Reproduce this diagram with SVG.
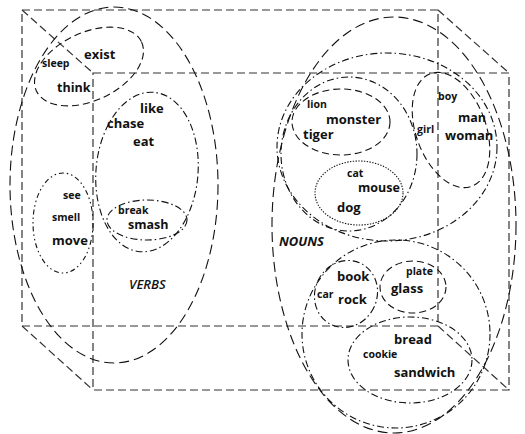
<svg xmlns="http://www.w3.org/2000/svg" width="525" height="434" viewBox="0 0 525 434">
<style>
.box{fill:none;stroke:#333;stroke-width:1.2;stroke-dasharray:8 4}
.e{fill:none;stroke:#111;stroke-width:1.1}
.long{stroke-dasharray:10 5}
.dash{stroke-dasharray:7 4}
.dd{stroke-dasharray:7 3 1.5 3}
.ddd{stroke-dasharray:5 3 1.5 3 1.5 3}
.dot{stroke-dasharray:1.4 1.4}
text{font-family:"Open Sans","Liberation Sans",sans-serif;font-weight:bold;fill:#111}
.s{font-size:10.5px}
.m{font-size:12.5px}
.l{font-size:13px}
.cat{font-size:13px;font-style:italic}
</style>
<rect width="525" height="434" fill="#fff"/>
<g id="box">
<rect class="box" x="22" y="10" width="416" height="316"/>
<rect class="box" x="93" y="73" width="416" height="317"/>
<line class="box" x1="22" y1="10" x2="93" y2="73"/>
<line class="box" x1="438" y1="10" x2="509" y2="73"/>
<line class="box" x1="22" y1="326" x2="93" y2="390"/>
<line class="box" x1="438" y1="326" x2="509" y2="390"/>
</g>
<g id="verbs">
<ellipse class="e long" cx="114" cy="185" rx="104" ry="178"/>
<text class="cat" x="129" y="289" style="font-weight:600">VERBS</text>
</g>
<g id="exist-group">
<ellipse class="e dash" cx="89" cy="66.5" rx="58" ry="34" transform="rotate(-25 89 66.5)"/>
<text class="l" x="84" y="59">exist</text>
<text class="s" x="42" y="67">sleep</text>
<text class="m" x="57" y="92">think</text>
</g>
<g id="like-group">
<ellipse class="e dd" cx="147" cy="172" rx="51" ry="80" transform="rotate(5 147 172)"/>
<text class="l" x="140" y="113">like</text>
<text class="l" x="107" y="128">chase</text>
<text class="l" x="133" y="146">eat</text>
</g>
<g id="break-group">
<ellipse class="e dd" cx="147" cy="220" rx="40" ry="20"/>
<text class="s" x="118" y="214">break</text>
<text class="m" x="128" y="229">smash</text>
</g>
<g id="see-group">
<ellipse class="e ddd" cx="63" cy="223" rx="30" ry="50"/>
<text class="s" x="63" y="199">see</text>
<text class="s" x="52" y="221">smell</text>
<text class="l" x="52" y="245">move</text>
</g>
<g id="nouns">
<ellipse class="e long" cx="394" cy="225" rx="122" ry="208"/>
<text class="cat" x="279" y="246">NOUNS</text>
</g>
<g id="animate">
<ellipse class="e dd" cx="387" cy="147" rx="110" ry="94"/>
</g>
<g id="animals">
<ellipse class="e dd" cx="349" cy="154" rx="68" ry="77"/>
</g>
<g id="lion-group">
<ellipse class="e dash" cx="341" cy="122" rx="49" ry="33"/>
<text class="s" x="307" y="108">lion</text>
<text class="l" x="326" y="124">monster</text>
<text class="l" x="303" y="139">tiger</text>
</g>
<g id="cat-group">
<ellipse class="e dot" cx="359" cy="193" rx="44" ry="32"/>
<text class="s" x="347" y="177">cat</text>
<text class="m" x="358" y="192">mouse</text>
<text class="l" x="337" y="212">dog</text>
</g>
<g id="people">
<ellipse class="e dash" cx="451" cy="130" rx="35" ry="60" transform="rotate(-20 451 130)"/>
<text class="s" x="438" y="100">boy</text>
<text class="m" x="458" y="122">man</text>
<text class="l" x="445" y="140">woman</text>
<text class="s" x="417" y="133">girl</text>
</g>
<g id="inanimate">
<ellipse class="e dd" cx="396" cy="334" rx="94" ry="94"/>
</g>
<g id="book-group">
<ellipse class="e dd" cx="346" cy="294" rx="31" ry="34" transform="rotate(25 346 294)"/>
<text class="l" x="337" y="281">book</text>
<text class="s" x="317" y="298">car</text>
<text class="l" x="338" y="304">rock</text>
</g>
<g id="plate-group">
<ellipse class="e dash" cx="413" cy="287" rx="33" ry="26"/>
<text class="s" x="406" y="275">plate</text>
<text class="l" x="391" y="293">glass</text>
</g>
<g id="bread-group">
<ellipse class="e dd" cx="410" cy="360" rx="62" ry="43"/>
<text class="l" x="394" y="344">bread</text>
<text class="s" x="363" y="358">cookie</text>
<text class="l" x="394" y="377">sandwich</text>
</g>
</svg>
